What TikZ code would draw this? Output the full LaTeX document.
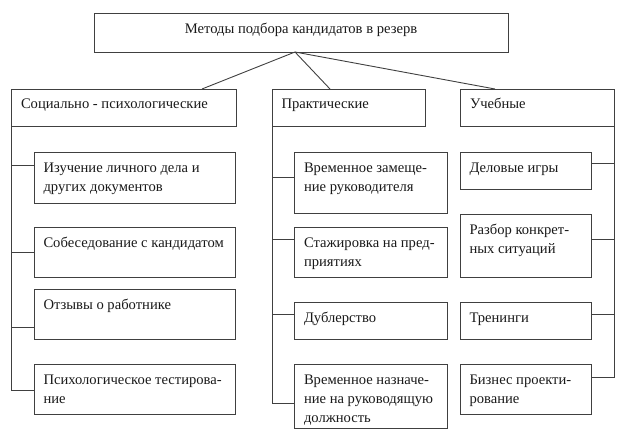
\documentclass[tikz,border=0pt]{standalone}
\usepackage{fontspec}
\setmainfont{Liberation Serif}
\usetikzlibrary{calc}
\begin{document}
\begin{tikzpicture}[x=1pt,y=1pt,
  frame/.style={draw=black!75,line width=0.9pt,anchor=north west,inner sep=0pt,outer sep=0pt},
  txt/.style={anchor=north west,inner sep=0pt,outer sep=0pt,align=left,text=black!90,font=\rmfamily\fontsize{14.6}{19}\selectfont},
  ttl/.style={anchor=base,inner sep=0pt,text=black!90,font=\rmfamily\fontsize{14.6}{19}\selectfont},
  conn/.style={draw=black!75,line width=0.9pt}]
\useasboundingbox (0,0) rectangle (625,-439);
\newcommand{\fs}{\rule{0pt}{14pt}}
% top
\node[frame,minimum width=414pt,minimum height=39pt] (top) at (94,-13) {};
\node[ttl] (toptxt) at (301,-33.5) {Методы подбора кандидатов в резерв};
% headers
\node[frame,minimum width=225pt,minimum height=37pt] (h1) at (11,-89) {};
\node[frame,minimum width=153pt,minimum height=37pt] (h2) at (272,-89) {};
\node[frame,minimum width=154pt,minimum height=37pt] (h3) at (460,-89) {};
\node[txt] (h1t) at ($(h1.north west)+(10,-5.5)$) {\fs Социально - психологические};
\node[txt] (h2t) at ($(h2.north west)+(9.5,-5.5)$) {\fs Практические};
\node[txt] (h3t) at ($(h3.north west)+(10,-5.5)$) {\fs Учебные};
% connectors from top
\coordinate (apex) at (295,-52);
\coordinate (e1) at (202,-89);
\coordinate (e2) at (330,-89);
\coordinate (e3) at (495,-89);
\draw[conn] (apex) -- (e1);
\draw[conn] (apex) -- (e2);
\draw[conn] (apex) -- (e3);
% column 1
\node[frame,minimum width=201pt,minimum height=51pt] (b1) at (34,-152) {};
\node[frame,minimum width=201pt,minimum height=50pt] (b2) at (34,-227) {};
\node[frame,minimum width=201pt,minimum height=50pt] (b3) at (34,-289) {};
\node[frame,minimum width=201pt,minimum height=50pt] (b4) at (34,-364) {};
\node[txt] (b1t) at ($(b1.north west)+(9.5,-6.5)$) {\fs Изучение личного дела и\\других документов};
\node[txt] (b2t) at ($(b2.north west)+(9.5,-6.5)$) {\fs Собеседование с кандидатом};
\node[txt] (b3t) at ($(b3.north west)+(9.5,-6.5)$) {\fs Отзывы о работнике};
\node[txt] (b4t) at ($(b4.north west)+(9.5,-6.5)$) {\fs Психологическое тестирова-\\ние};
\coordinate (s1) at (34,-165);
\coordinate (s2) at (34,-252);
\coordinate (s3) at (34,-327);
\coordinate (s4) at (34,-390);
\draw[conn] (h1.south west) |- (s4);
\draw[conn] (s1) -- (h1.south west |- s1);
\draw[conn] (s2) -- (h1.south west |- s2);
\draw[conn] (s3) -- (h1.south west |- s3);
% column 2
\node[frame,minimum width=153pt,minimum height=61pt] (c1) at (294,-152) {};
\node[frame,minimum width=153pt,minimum height=50pt] (c2) at (294,-227) {};
\node[frame,minimum width=153pt,minimum height=37pt] (c3) at (294,-302) {};
\node[frame,minimum width=153pt,minimum height=64pt] (c4) at (294,-364) {};
\node[txt] (c1t) at ($(c1.north west)+(10,-6.5)$) {\fs Временное замеще-\\ние руководителя};
\node[txt] (c2t) at ($(c2.north west)+(10,-6.5)$) {\fs Стажировка на пред-\\приятиях};
\node[txt] (c3t) at ($(c3.north west)+(10,-6.5)$) {\fs Дублерство};
\node[txt] (c4t) at ($(c4.north west)+(10,-6)$) {\fs Временное назначе-\\ние на руководящую\\должность};
\coordinate (t1) at (294,-177);
\coordinate (t2) at (294,-239);
\coordinate (t3) at (294,-314);
\coordinate (t4) at (294,-403);
\draw[conn] (h2.south west) |- (t4);
\draw[conn] (t1) -- (h2.south west |- t1);
\draw[conn] (t2) -- (h2.south west |- t2);
\draw[conn] (t3) -- (h2.south west |- t3);
% column 3
\node[frame,minimum width=131pt,minimum height=37pt] (d1) at (460,-152) {};
\node[frame,minimum width=131pt,minimum height=63pt] (d2) at (460,-214) {};
\node[frame,minimum width=131pt,minimum height=37pt] (d3) at (460,-302) {};
\node[frame,minimum width=131pt,minimum height=50pt] (d4) at (460,-364) {};
\node[txt] (d1t) at ($(d1.north west)+(9.5,-6.5)$) {\fs Деловые игры};
\node[txt] (d2t) at ($(d2.north west)+(9.5,-6.5)$) {\fs Разбор конкрет-\\ных ситуаций};
\node[txt] (d3t) at ($(d3.north west)+(9.5,-6.5)$) {\fs Тренинги};
\node[txt] (d4t) at ($(d4.north west)+(9.5,-6.5)$) {\fs Бизнес проекти-\\рование};
\coordinate (u1) at (591,-163);
\coordinate (u2) at (591,-239);
\coordinate (u3) at (591,-314);
\coordinate (u4) at (591,-377);
\draw[conn] (h3.south east) |- (u4);
\draw[conn] (u1) -- (h3.south east |- u1);
\draw[conn] (u2) -- (h3.south east |- u2);
\draw[conn] (u3) -- (h3.south east |- u3);
\end{tikzpicture}
\end{document}
